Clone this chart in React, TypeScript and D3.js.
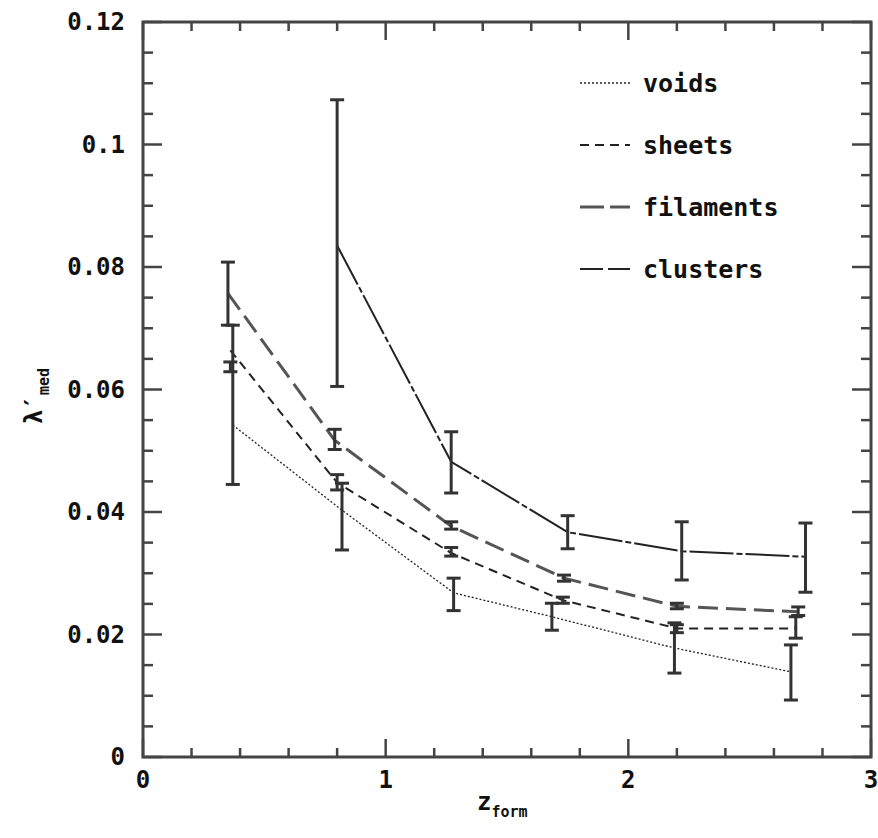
import React from "react";
import * as d3 from "d3";

const W = 878, H = 838;
const margin = { left: 143, right: 7, top: 22, bottom: 81 };

const seriesNames = ["voids", "sheets", "filaments", "clusters"];

const voidsX = [0.37, 0.82, 1.28, 1.685, 2.19, 2.67];
const voidsY = [0.0542, 0.0403, 0.0268, 0.0229, 0.0178, 0.0139];
const voidsLo = [0.0445, 0.0338, 0.0239, 0.0207, 0.0137, 0.0093];
const voidsHi = [0.0705, 0.0447, 0.0292, 0.0251, 0.0219, 0.0183];

const sheetsX = [0.36, 0.8, 1.27, 1.73, 2.2, 2.69];
const sheetsY = [0.0664, 0.0448, 0.0333, 0.0256, 0.0210, 0.0210];
const sheetsLo = [0.0629, 0.0436, 0.0328, 0.0251, 0.0203, 0.0194];
const sheetsHi = [0.0645, 0.0461, 0.0342, 0.0261, 0.0216, 0.0229];

const filamentsX = [0.35, 0.79, 1.27, 1.735, 2.2, 2.7];
const filamentsY = [0.0757, 0.0517, 0.0377, 0.0292, 0.0246, 0.0237];
const filamentsLo = [0.0705, 0.0502, 0.0372, 0.0287, 0.0242, 0.0231];
const filamentsHi = [0.0808, 0.0535, 0.0384, 0.0297, 0.0251, 0.0245];

const clustersX = [0.8, 1.27, 1.75, 2.22, 2.73];
const clustersY = [0.0835, 0.0482, 0.0367, 0.0336, 0.0327];
const clustersLo = [0.0605, 0.0431, 0.034, 0.0289, 0.0269];
const clustersHi = [0.1073, 0.0531, 0.0394, 0.0384, 0.0382];

const xMajorTicks = [0, 1, 2, 3];
const yMajorTicks = [0, 0.02, 0.04, 0.06, 0.08, 0.1, 0.12];
const yTickLabels = ["0", "0.02", "0.04", "0.06", "0.08", "0.1", "0.12"];

const styles = [
  { dash: "2 2", legendDash: "2 2", width: 1.3, color: "#222" },
  { dash: "9 6", legendDash: "9 6", width: 2, color: "#222" },
  { dash: "20 8", legendDash: "24 6", width: 3, color: "#555" },
  { dash: "44 3 6 3", legendDash: "23 5", width: 2, color: "#222" },
];

export default function App() {
  const x = d3.scaleLinear().domain([0, 3]).range([margin.left, W - margin.right]);
  const y = d3.scaleLinear().domain([0, 0.12]).range([H - margin.bottom, margin.top]);
  const x0 = x(0), x1 = x(3), y0 = y(0), y1 = y(0.12);

  const series = [
    { xs: voidsX, ys: voidsY, lo: voidsLo, hi: voidsHi },
    { xs: sheetsX, ys: sheetsY, lo: sheetsLo, hi: sheetsHi },
    { xs: filamentsX, ys: filamentsY, lo: filamentsLo, hi: filamentsHi },
    { xs: clustersX, ys: clustersY, lo: clustersLo, hi: clustersHi },
  ];

  const line = d3.line<[number, number]>().x(d => x(d[0])).y(d => y(d[1]));
  const xMinor = d3.range(0, 3.0001, 0.2).filter(v => Math.abs(v - Math.round(v)) > 1e-6);
  const yMinor = d3.range(0, 0.12001, 0.005).filter(v => Math.abs(v / 0.02 - Math.round(v / 0.02)) > 1e-6);

  const axisColor = "#444";
  const font = "'DejaVu Sans Mono', 'Liberation Mono', monospace";

  return (
    <svg width={W} height={H} style={{ position: "absolute", left: 0, top: 0 }}>
      <rect width={W} height={H} fill="#fff" />
      <g stroke={axisColor} strokeWidth={2.5}>
        {xMajorTicks.map(v => (
          <g key={"xm" + v}>
            <line x1={x(v)} x2={x(v)} y1={y0} y2={y0 - 18} />
            <line x1={x(v)} x2={x(v)} y1={y1} y2={y1 + 18} />
          </g>
        ))}
        {xMinor.map(v => (
          <g key={"xn" + v}>
            <line x1={x(v)} x2={x(v)} y1={y0} y2={y0 - 9} />
            <line x1={x(v)} x2={x(v)} y1={y1} y2={y1 + 9} />
          </g>
        ))}
        {yMajorTicks.map(v => (
          <g key={"ym" + v}>
            <line x1={x0} x2={x0 + 19} y1={y(v)} y2={y(v)} />
            <line x1={x1} x2={x1 - 19} y1={y(v)} y2={y(v)} />
          </g>
        ))}
        {yMinor.map(v => (
          <g key={"yn" + v}>
            <line x1={x0} x2={x0 + 10} y1={y(v)} y2={y(v)} />
            <line x1={x1} x2={x1 - 10} y1={y(v)} y2={y(v)} />
          </g>
        ))}
      </g>
      <rect x={x0} y={y1} width={x1 - x0} height={y0 - y1} fill="none" stroke={axisColor} strokeWidth={3} />
      <g fontFamily={font} fontSize={24} fontWeight={700} fill="#111">
        {yMajorTicks.map((v, i) => (
          <text key={"yl" + v} x={x0 - 18} y={y(v)} textAnchor="end" dominantBaseline="central">{yTickLabels[i]}</text>
        ))}
        {xMajorTicks.map(v => (
          <text key={"xl" + v} x={x(v)} y={y0 + 31} textAnchor="middle">{v}</text>
        ))}
      </g>
      <text x={477} y={810} fontFamily={font} fontSize={24} fontWeight={700} fill="#111">
        z<tspan fontSize={15} dy={7}>form</tspan>
      </text>
      <text transform={`translate(42,396) rotate(-90)`} fontFamily={font} fontSize={24} fontWeight={700} fill="#111" textAnchor="middle">
        λ′<tspan fontSize={15} dy={7}>med</tspan>
      </text>
      {series.map((s, i) => (
        <path key={"l" + i} d={line(s.xs.map((v, j) => [v, s.ys[j]] as [number, number])) || ""}
          fill="none" stroke={styles[i].color} strokeWidth={styles[i].width} strokeDasharray={styles[i].dash} />
      ))}
      <g stroke="#333" strokeWidth={3}>
        {series.map((s, i) => s.xs.map((v, j) => (
          <g key={"e" + i + "-" + j}>
            <line x1={x(v)} x2={x(v)} y1={y(s.lo[j])} y2={y(s.hi[j])} />
            <line x1={x(v) - 7} x2={x(v) + 7} y1={y(s.lo[j])} y2={y(s.lo[j])} />
            <line x1={x(v) - 7} x2={x(v) + 7} y1={y(s.hi[j])} y2={y(s.hi[j])} />
          </g>
        )))}
      </g>
      <g fontFamily={font} fontSize={25} fontWeight={700} fill="#111">
        {seriesNames.map((n, i) => (
          <g key={"lg" + n} transform={`translate(580,${83 + i * 62})`}>
            <line x1={0} x2={50} y1={0} y2={0} stroke={styles[i].color} strokeWidth={styles[i].width} strokeDasharray={styles[i].legendDash} />
            <text x={63} y={0} dominantBaseline="central">{n}</text>
          </g>
        ))}
      </g>
    </svg>
  );
}
